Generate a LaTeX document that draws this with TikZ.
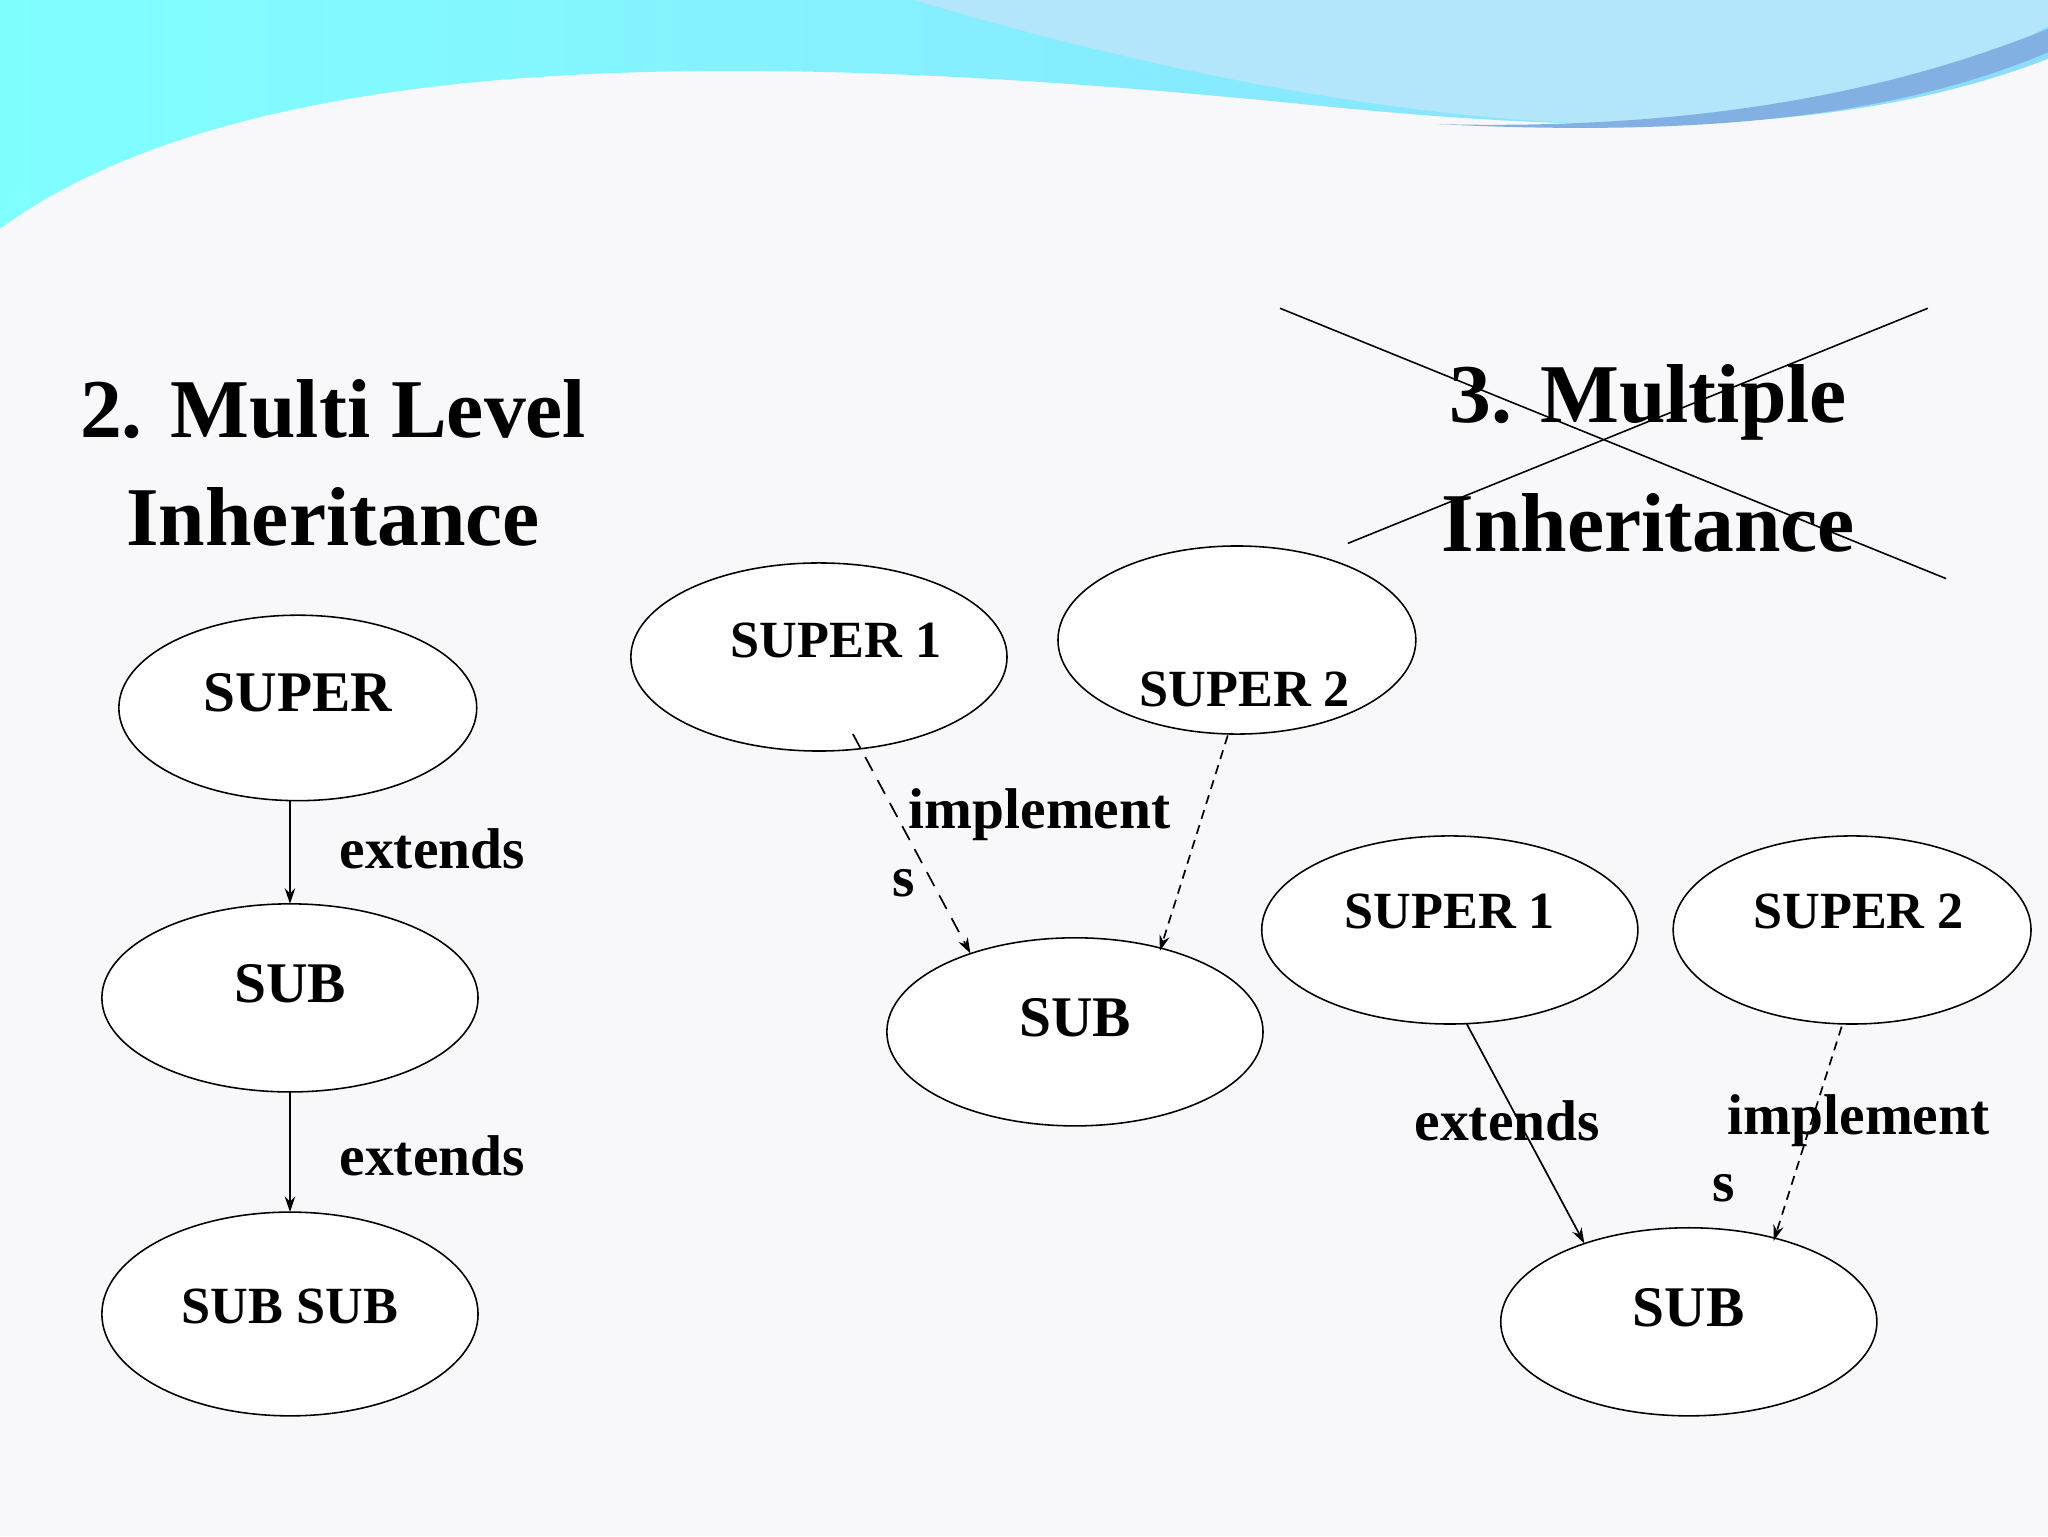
\documentclass[tikz,border=0pt]{standalone}
\usepackage{fontspec}
\setmainfont{Liberation Serif}
\usetikzlibrary{shapes.geometric,arrows.meta}
\definecolor{bg}{HTML}{F8F8FA}
\begin{document}
\begin{tikzpicture}[x=1pt,y=-1pt,
  oval/.style={ellipse,draw,line width=1.2pt,fill=white,minimum width=288pt,minimum height=144pt,inner sep=0pt},
  lab/.style={font=\fontsize{44}{48}\selectfont\bfseries},
  nlab/.style={font=\fontsize{40}{44}\selectfont\bfseries},
  ttl/.style={font=\fontsize{64}{70}\selectfont\bfseries},
  arr/.style={line width=1.3pt,-{Stealth[length=12pt,width=8pt]}},
  dsh/.style={arr,dash pattern=on 12pt off 8pt}]
\fill[bg] (0,0) rectangle (1568,1176);
\useasboundingbox (0,0) rectangle (1568,1176);
\shade[left color=cyan!50!white, right color=blue!30!cyan!45!white]
  (0,0) -- (1568,0) -- (1568,45) .. controls (1400,110) and (1200,100) .. (1000,80)
  .. controls (600,40) and (200,30) .. (0,175) -- cycle;
\fill[white!70!cyan] (700,0) .. controls (900,60) and (1100,95) .. (1250,95) .. controls (1400,95) and (1500,60) .. (1568,20) -- (1568,0) -- cycle;
\fill[cyan!60!blue!50] (1100,95) .. controls (1300,100) and (1450,70) .. (1568,22) -- (1568,40) .. controls (1450,90) and (1300,105) .. (1100,95) -- cycle;

% titles
\node[ttl] (t1) at (255,313) {2. Multi Level};
\node[ttl] (t2) at (255,396) {Inheritance};
\node[ttl] (t3) at (1262,308) {3. Multiple};
\node[ttl] (t4) at (1262,400) {Inheritance};
\coordinate (x1) at (980,236); \coordinate (x2) at (1490,443);
\coordinate (x3) at (1032,416); \coordinate (x4) at (1476,236);
\draw[line width=1.2pt] (x1) -- (x2); \draw[line width=1.2pt] (x3) -- (x4);

% multi level
\node[oval,minimum width=274pt,minimum height=142pt] (a1) at (228,542) {};
\node[lab] at (228,530) {SUPER};
\node[oval,minimum height=144pt] (a2) at (222,764) {};
\node[lab] at (222,753) {SUB};
\node[oval,minimum height=156pt] (a3) at (222,1006) {};
\node[nlab] at (222,1000) {SUB SUB};
\coordinate (a1s) at (222,613); \coordinate (a2e) at (222,692);
\coordinate (a2s) at (222,836); \coordinate (a3e) at (222,928);
\draw[arr] (a1s) -- (a2e);
\draw[arr] (a2s) -- (a3e);
\node[lab] at (331,650) {extends};
\node[lab] at (331,885) {extends};

% middle
\node[oval] (b1) at (627,503) {};
\node[nlab] at (640,490) {SUPER 1};
\node[oval,minimum width=274pt] (b2) at (947,490) {};
\node[nlab] at (953,528) {SUPER 2};
\node[oval] (b3) at (823,790) {};
\node[lab] at (823,779) {SUB};
\coordinate (b1s) at (653,562); \coordinate (b3a) at (743,730);
\coordinate (b2s) at (940,563); \coordinate (b3b) at (888,728);
\draw[dsh] (b1s) -- (b3a);
\draw[dsh,dash pattern=on 7pt off 5pt] (b2s) -- (b3b);
\node[lab] at (796,624) {implement};
\node[lab] at (692,676) {s};

% right
\node[oval] (c1) at (1110,712) {};
\node[nlab] at (1110,698) {SUPER 1};
\node[oval,minimum width=274pt] (c2) at (1418,712) {};
\node[nlab] at (1423,698) {SUPER 2};
\node[oval] (c3) at (1293,1012) {};
\node[lab] at (1293,1001) {SUB};
\coordinate (c1s) at (1123,784); \coordinate (c3a) at (1213,952);
\coordinate (c2s) at (1410,786); \coordinate (c3b) at (1358,950);
\draw[arr] (c1s) -- (c3a);
\draw[dsh,dash pattern=on 7pt off 5pt] (c2s) -- (c3b);
\node[lab] at (1154,858) {extends};
\node[lab] at (1423,858) {implement};
\node[lab] at (1320,910) {s};
\end{tikzpicture}
\end{document}
